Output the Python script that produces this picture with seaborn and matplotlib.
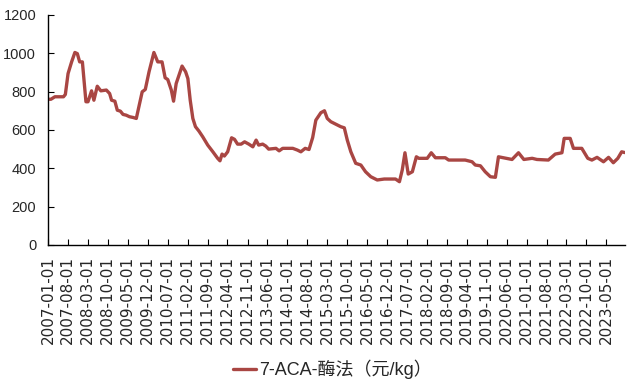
#!/usr/bin/env python3
"""7-ACA enzymatic method price line chart."""

import matplotlib
matplotlib.use("Agg")
import matplotlib.dates as mdates
import matplotlib.pyplot as plt
import numpy as np
import pandas as pd
import seaborn as sns

# %% Data
dates = [
    "2007-01-01", "2007-02-01", "2007-03-15", "2007-06-15", "2007-07-05", "2007-08-03",
    "2007-09-10", "2007-10-15", "2007-11-10", "2007-12-05", "2008-01-03", "2008-02-10",
    "2008-03-03", "2008-04-10", "2008-05-05", "2008-06-10", "2008-07-18", "2008-09-15",
    "2008-10-20", "2008-11-10", "2008-12-15", "2009-01-10", "2009-02-12", "2009-03-12",
    "2009-04-15", "2009-05-20", "2009-06-28", "2009-08-01", "2009-09-05", "2009-10-03",
    "2009-11-05", "2009-12-15", "2010-02-05", "2010-03-18", "2010-05-03", "2010-06-05",
    "2010-07-03", "2010-08-10", "2010-09-03", "2010-10-01", "2010-12-03", "2011-01-10",
    "2011-02-03", "2011-02-28", "2011-03-28", "2011-04-25", "2011-06-01", "2011-07-12",
    "2011-09-03", "2011-10-28", "2011-12-18", "2012-01-12", "2012-02-03", "2012-02-28",
    "2012-04-03", "2012-05-15", "2012-06-15", "2012-07-18", "2012-08-25", "2012-10-01",
    "2012-11-15", "2012-12-28", "2013-02-01", "2013-02-28", "2013-04-12", "2013-05-15",
    "2013-06-15", "2013-09-01", "2013-10-05", "2013-11-12", "2014-02-28", "2014-04-18",
    "2014-05-25", "2014-07-10", "2014-08-20", "2014-09-28", "2014-11-01", "2014-12-25",
    "2015-02-01", "2015-03-03", "2015-04-10", "2015-06-01", "2015-07-25", "2015-09-01",
    "2015-10-03", "2015-11-10", "2016-01-01", "2016-02-25", "2016-04-15", "2016-06-10",
    "2016-08-18", "2016-11-01", "2017-03-01", "2017-04-12", "2017-05-12", "2017-06-10",
    "2017-07-15", "2017-08-28", "2017-10-10", "2017-11-05", "2018-02-03", "2018-03-18",
    "2018-05-01", "2018-08-15", "2018-09-20", "2019-03-15", "2019-05-28", "2019-07-01",
    "2019-08-25", "2019-10-15", "2019-12-10", "2020-02-01", "2020-03-05", "2020-04-28",
    "2020-07-28", "2020-10-05", "2020-12-01", "2021-02-28", "2021-04-20", "2021-08-20",
    "2021-11-01", "2022-01-12", "2022-02-05", "2022-04-10", "2022-05-15", "2022-08-12",
    "2022-10-15", "2022-11-28", "2023-01-22", "2023-04-01", "2023-05-25", "2023-07-15",
    "2023-09-01", "2023-10-12", "2023-11-15",
]
price = [
    760, 760, 773, 773, 785, 894,
    955, 1004, 998, 955, 955, 747,
    747, 804, 755, 828, 804, 808,
    790, 755, 750, 703, 698, 681,
    677, 669, 665, 660, 738, 799,
    811, 903, 1004, 955, 955, 872,
    863, 808, 750, 842, 933, 903,
    868, 755, 660, 617, 594, 564,
    521, 486, 452, 439, 474, 464,
    486, 559, 551, 526, 526, 538,
    526, 512, 547, 521, 526, 516,
    500, 504, 491, 504, 504, 495,
    486, 504, 498, 560, 651, 690,
    700, 660, 643, 630, 617, 611,
    547, 486, 426, 417, 382, 356,
    339, 344, 344, 330, 391, 481,
    370, 382, 460, 452, 452, 481,
    455, 455, 443, 443, 434, 417,
    413, 382, 356, 353, 460, 455,
    446, 481, 446, 452, 446, 443,
    474, 481, 556, 556, 504, 504,
    452, 443, 457, 434, 457, 429,
    452, 486, 482,
]
tick_dates = [
    "2007-01-01", "2007-08-01", "2008-03-01", "2008-10-01", "2009-05-01", "2009-12-01",
    "2010-07-01", "2011-02-01", "2011-09-01", "2012-04-01", "2012-11-01", "2013-06-01",
    "2014-01-01", "2014-08-01", "2015-03-01", "2015-10-01", "2016-05-01", "2016-12-01",
    "2017-07-01", "2018-02-01", "2018-09-01", "2019-04-01", "2019-11-01", "2020-06-01",
    "2021-01-01", "2021-08-01", "2022-03-01", "2022-10-01", "2023-05-01",
]
y_ticks = [0, 200, 400, 600, 800, 1000, 1200]
series_name = "7-ACA-酶法（元/kg）"
line_color = "#A94643"

df = pd.DataFrame({"date": pd.to_datetime(dates), "price": price})

# %% Plot
sns.set_style("white")
plt.rcParams["font.family"] = ["Liberation Sans", "DejaVu Sans"]

fig = plt.figure(figsize=(6.27, 3.88), dpi=100)
ax = fig.add_axes([0.0766, 0.3686, 0.921, 0.593])

sns.lineplot(data=df, x="date", y="price", ax=ax, color=line_color,
             linewidth=2.4, label=series_name)

ax.set_xlim(pd.Timestamp("2007-01-01"), pd.Timestamp("2023-11-22"))
ax.set_ylim(0, 1200)
ax.set_yticks(y_ticks)
ax.set_xticks(pd.to_datetime(tick_dates))
ax.xaxis.set_major_formatter(mdates.DateFormatter("%Y-%m-%d"))
ax.set_xlabel("")
ax.set_ylabel("")

for side in ["top", "right"]:
    ax.spines[side].set_visible(False)
for side in ["left", "bottom"]:
    ax.spines[side].set_color("black")
    ax.spines[side].set_linewidth(1.0)

ax.tick_params(axis="x", bottom=True, direction="in", length=4, width=0.8, color="black",
               pad=8, labelsize=11, rotation=90, labelfontfamily="DejaVu Sans")
ax.tick_params(axis="y", left=True, direction="in", length=4, width=0.8, color="black",
               pad=8.5, labelsize=10.5, labelfontfamily="Liberation Sans")

leg = ax.legend(loc="lower center", bbox_to_anchor=(0.53, 0.005), bbox_transform=fig.transFigure,
                frameon=False, handlelength=1.3, handletextpad=0.15, borderaxespad=0,
                prop={"family": ["Liberation Sans", "Noto Sans CJK SC"], "size": 13})

fig.savefig("out.png", dpi=100)
